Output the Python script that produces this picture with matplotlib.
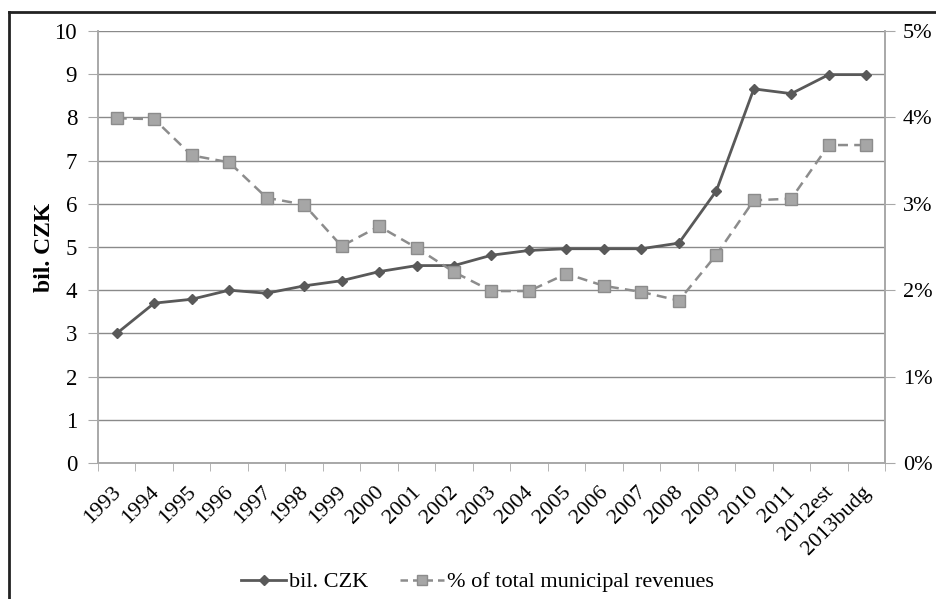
import matplotlib.pyplot as plt
import matplotlib.transforms as mtransforms
from matplotlib.lines import Line2D
from matplotlib.ticker import FuncFormatter

plt.rcParams['font.family'] = ['Liberation Serif', 'DejaVu Serif']

years = ['1993', '1994', '1995', '1996', '1997', '1998', '1999', '2000',
         '2001', '2002', '2003', '2004', '2005', '2006', '2007', '2008',
         '2009', '2010', '2011', '2012est', '2013budg']
bil_czk = [3.0, 3.70, 3.79, 4.0, 3.93, 4.10, 4.22, 4.43, 4.57, 4.57, 4.81,
           4.92, 4.96, 4.96, 4.96, 5.09, 6.30, 8.66, 8.55, 8.99, 8.99]
pct_revenues = [3.99, 3.98, 3.56, 3.48, 3.07, 2.99, 2.51, 2.74, 2.49, 2.21,
                1.99, 1.99, 2.19, 2.05, 1.98, 1.88, 2.41, 3.04, 3.06, 3.68, 3.68]

x = list(range(len(years)))

fig = plt.figure(figsize=(9.37, 5.99), dpi=100)
ax = fig.add_axes([98 / 937, 1 - 463 / 599, (885 - 98) / 937, (463 - 31) / 599])
ax2 = ax.twinx()

grid_c = '#8a8a8a'
spine_c = '#a8a8a8'

# left axis: billions CZK
l1, = ax.plot(x, bil_czk, color='#595959', lw=2, marker='D', ms=5.5,
              mfc='#595959', mec='#595959', zorder=4)
ax.set_ylim(0, 10)
ax.set_yticks(range(0, 11))
ax.yaxis.grid(True, color=grid_c, lw=1)
ax.set_axisbelow(True)
ax.set_xlim(-0.5, len(years) - 0.5)
ax.set_xticks(x)
ax.set_xticklabels(years, rotation=45, ha='right', va='top',
                   rotation_mode='anchor', fontsize=16)
ax.set_xticks([i - 0.5 for i in range(len(years) + 1)], minor=True)
ax.tick_params(axis='x', which='major', length=0, pad=14)
ax.tick_params(axis='x', which='minor', length=6, color=spine_c, direction='out')
ax.tick_params(axis='y', length=7, color=spine_c, labelsize=16.5, pad=8)
ax.set_ylabel('bil. CZK', fontsize=17, fontweight='bold', labelpad=0)

# nudge the slanted year labels a little to the left
shift = mtransforms.ScaledTranslation(-5 / 100, 0, fig.dpi_scale_trans)
for lab in ax.get_xticklabels():
    lab.set_transform(lab.get_transform() + shift)

# right axis: share of municipal revenues
l2, = ax2.plot(x, pct_revenues, color='#8c8c8c', lw=1.8, ls=(0, (4, 2.5)),
               marker='s', ms=8, mfc='#a6a6a6', mec='#8c8c8c', zorder=3)
ax2.set_ylim(0, 5)
ax2.set_yticks(range(0, 6))
ax2.yaxis.set_major_formatter(FuncFormatter(lambda v, p: f'{v:.0f}%'))
ax2.tick_params(axis='y', length=7, color=spine_c, labelsize=16, pad=6)

for a in (ax, ax2):
    a.spines['top'].set_visible(False)
    for s in ('left', 'right', 'bottom'):
        a.spines[s].set_color(spine_c)
        a.spines[s].set_linewidth(1.2)

leg_handles = [Line2D([], [], color='#595959', lw=2, marker='D', ms=5,
                      mfc='#595959', mec='#595959'),
               Line2D([], [], color='#8c8c8c', lw=1.8, ls=(0, (3, 2)), marker='s',
                      ms=7, mfc='#a6a6a6', mec='#8c8c8c')]
fig.legend(leg_handles, ['bil. CZK', '% of total municipal revenues'],
           loc='center', bbox_to_anchor=(0.51, 1 - 582 / 599), ncol=2,
           frameon=False, fontsize=16, handlelength=2.0, handletextpad=0.15,
           columnspacing=1.4)

# chart border (left and top edges)
fig.add_artist(Line2D([9 / 937, 9 / 937], [0, 1 - 12 / 599], color='#222222', lw=2,
                      transform=fig.transFigure))
fig.add_artist(Line2D([9 / 937, 1], [1 - 12 / 599, 1 - 12 / 599], color='#222222',
                      lw=2, transform=fig.transFigure))

fig.savefig('out.png', dpi=100)
